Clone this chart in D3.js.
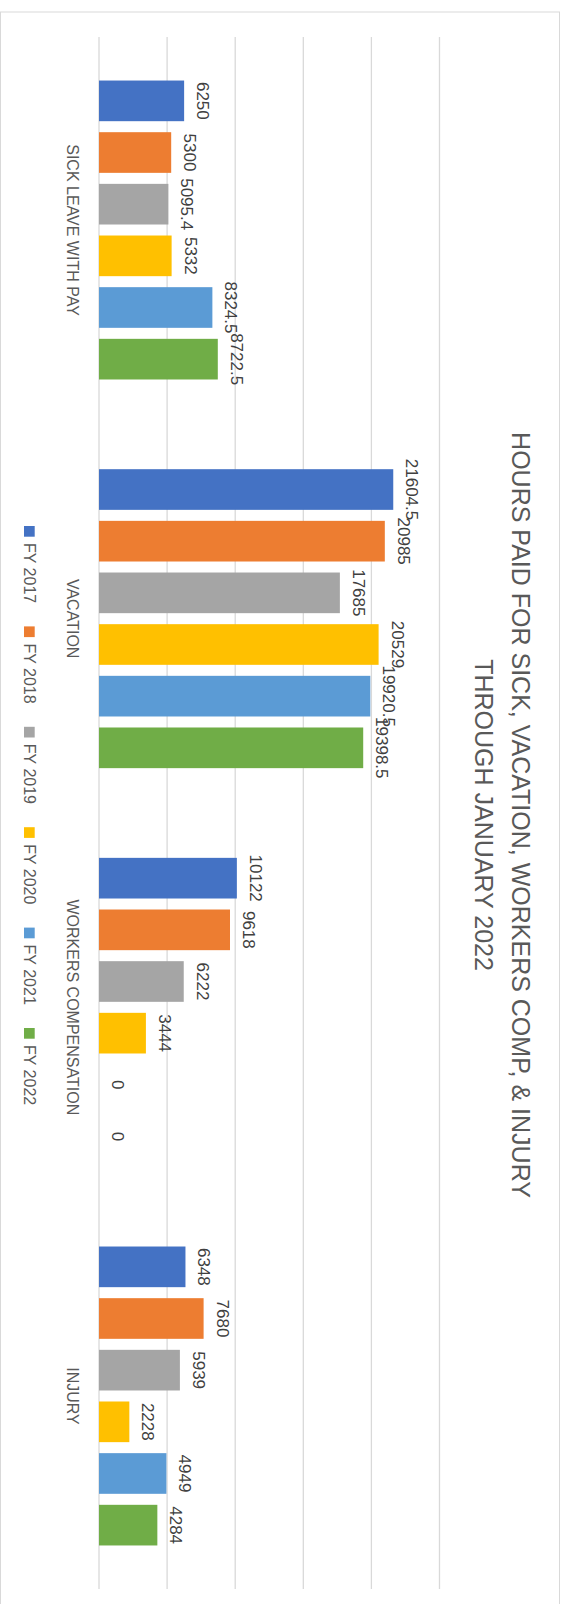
<!DOCTYPE html>
<html>
<head>
<meta charset="utf-8">
<script src="https://cdn.jsdelivr.net/npm/d3@7"></script>
<style>
  body { margin: 0; background: #fff; }
  text { font-family: "Liberation Sans", Arial, sans-serif; }
</style>
</head>
<body>
<div id="chart"></div>
<script>
var categories = ["SICK LEAVE WITH PAY", "VACATION", "WORKERS COMPENSATION", "INJURY"];
var seriesNames = ["FY 2017", "FY 2018", "FY 2019", "FY 2020", "FY 2021", "FY 2022"];
var fy2017 = [6250, 21604.5, 10122, 6348];
var fy2018 = [5300, 20985, 9618, 7680];
var fy2019 = [5095.4, 17685, 6222, 5939];
var fy2020 = [5332, 20529, 3444, 2228];
var fy2021 = [8324.5, 19920.5, 0, 4949];
var fy2022 = [8722.5, 19398.5, 0, 4284];
var gridTicks = [0, 5000, 10000, 15000, 20000, 25000];
var titleLines = ["HOURS PAID FOR SICK, VACATION, WORKERS COMP, & INJURY", "THROUGH JANUARY 2022"];

var colors = ["#4472C4", "#ED7D31", "#A5A5A5", "#FFC000", "#5B9BD5", "#70AD47"];
var allSeries = [fy2017, fy2018, fy2019, fy2020, fy2021, fy2022];

var width = 565, height = 1604,
  plotTop = 37, plotBottom = 1589;

var svg = d3.select("#chart")
  .append("svg")
    .attr("width", width)
    .attr("height", height);

// chart frame
svg.append("rect")
  .attr("x", 0.5).attr("y", 12)
  .attr("width", 559).attr("height", 1610)
  .attr("fill", "#fff")
  .attr("stroke", "#d9d9d9")
  .attr("stroke-width", 1);

var xScale = d3.scaleLinear()
  .domain([0, 25000])
  .range([99, 439.5]);

var catScale = d3.scaleBand()
  .domain(categories)
  .range([plotTop, plotBottom])
  .paddingInner(0.2308)
  .paddingOuter(0.112);

var serScale = d3.scaleBand()
  .domain(seriesNames)
  .range([0, catScale.bandwidth()])
  .paddingInner(0.213)
  .paddingOuter(0);

// gridlines
svg.append("g").selectAll("line")
  .data(gridTicks)
  .enter().append("line")
    .attr("x1", function (d) { return xScale(d); })
    .attr("x2", function (d) { return xScale(d); })
    .attr("y1", plotTop)
    .attr("y2", plotBottom)
    .attr("stroke", "#d9d9d9")
    .attr("stroke-width", 1.3);

// flatten into bar records
var bars = [];
categories.forEach(function (c, ci) {
  seriesNames.forEach(function (s, si) {
    bars.push({ cat: c, series: s, value: allSeries[si][ci], color: colors[si] });
  });
});

var groups = svg.append("g");

groups.selectAll("rect")
  .data(bars)
  .enter().append("rect")
    .attr("x", xScale(0))
    .attr("y", function (d) { return catScale(d.cat) + serScale(d.series); })
    .attr("width", function (d) { return xScale(d.value) - xScale(0); })
    .attr("height", serScale.bandwidth())
    .attr("fill", function (d) { return d.color; });

// data labels, rotated like the rest of the chart
groups.selectAll("text.val")
  .data(bars)
  .enter().append("text")
    .attr("class", "val")
    .attr("transform", function (d) {
      var cy = catScale(d.cat) + serScale(d.series) + serScale.bandwidth() / 2;
      return "translate(" + (xScale(d.value) + 13) + "," + cy + ") rotate(90)";
    })
    .attr("text-anchor", "middle")
    .attr("font-size", 17)
    .attr("fill", "#404040")
    .text(function (d) { return d.value; });

// category labels
svg.append("g").selectAll("text")
  .data(categories)
  .enter().append("text")
    .attr("transform", function (d) {
      return "translate(67," + (catScale(d) + catScale.bandwidth() / 2) + ") rotate(90)";
    })
    .attr("text-anchor", "middle")
    .attr("font-size", 16)
    .attr("fill", "#595959")
    .text(function (d) { return d; });

// title
svg.append("g").selectAll("text")
  .data(titleLines)
  .enter().append("text")
    .attr("transform", function (d, i) {
      return "translate(" + (512 - i * 37) + ",815) rotate(90)";
    })
    .attr("text-anchor", "middle")
    .attr("font-size", 25)
    .attr("fill", "#595959")
    .text(function (d) { return d; });

// legend
var legend = svg.append("g").selectAll("g")
  .data(seriesNames)
  .enter().append("g")
    .attr("transform", function (d, i) { return "translate(24," + (526 + i * 100.4) + ")"; });

legend.append("rect")
  .attr("width", 10.7)
  .attr("height", 10.7)
  .attr("fill", function (d, i) { return colors[i]; });

legend.append("text")
  .attr("transform", "translate(-0.5,17) rotate(90)")
  .attr("font-size", 16)
  .attr("fill", "#595959")
  .text(function (d) { return d; });
</script>
</body>
</html>
